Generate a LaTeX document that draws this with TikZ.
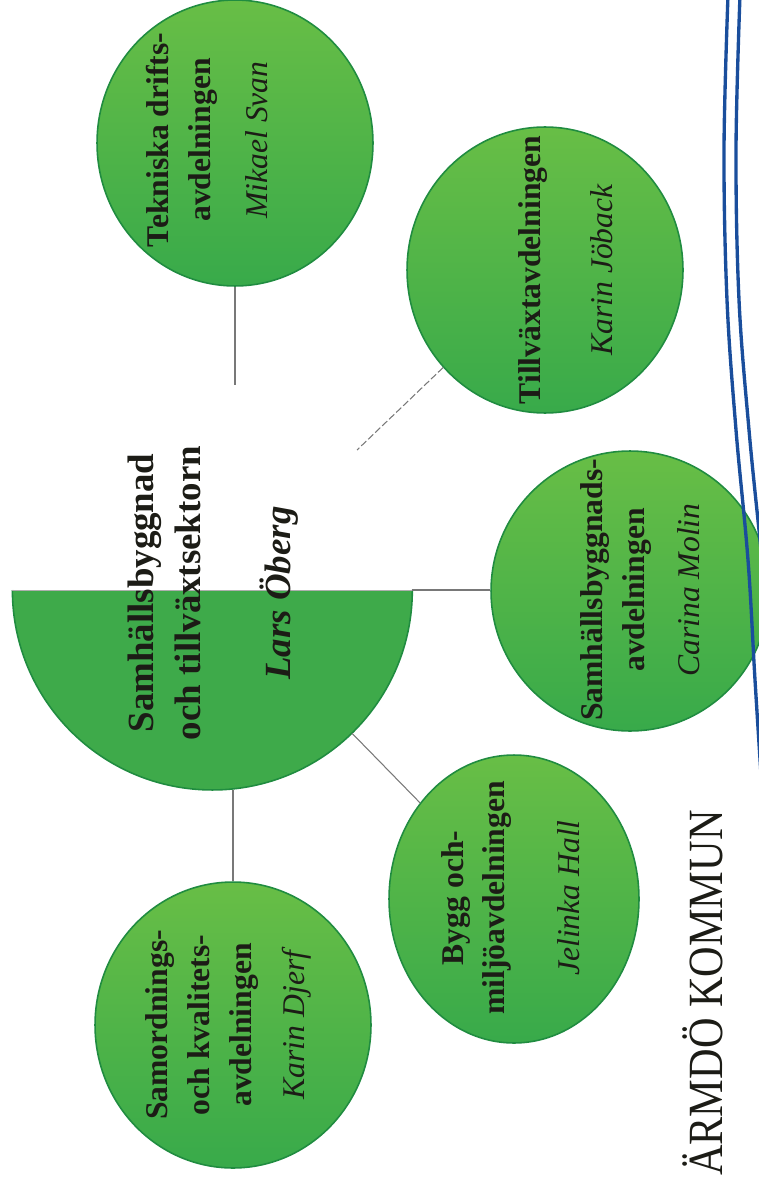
\documentclass[tikz,border=0pt]{standalone}
\usepackage{fontspec}
\usepackage{graphicx}
\usetikzlibrary{shapes.geometric}
\setmainfont{Liberation Serif}
\definecolor{discA}{RGB}{104,190,70}
\definecolor{discB}{RGB}{56,170,74}
\definecolor{discedge}{RGB}{32,140,64}
\definecolor{headfill}{RGB}{62,170,74}
\definecolor{ink}{RGB}{28,28,22}
\definecolor{connc}{RGB}{120,120,120}
\definecolor{bluec}{RGB}{26,78,156}
\newcommand\pname[1]{{\mdseries\itshape #1}}
\begin{document}
\begin{tikzpicture}[x=0.02cm, y=-0.02cm,
  disc/.style={ellipse, draw=discedge, line width=0.9pt, top color=discA, bottom color=discB, inner sep=0pt,
    minimum width=5.52cm, minimum height=5.72cm},
  lbl/.style={rotate=90, align=center, text=ink, font=\fontsize{18}{24}\selectfont\bfseries},
  conn/.style={draw=connc, line width=0.6pt},
  blueline/.style={draw=bluec, line width=1.9pt}]
\useasboundingbox (0,0) rectangle (759,1182);

% head (semicircle)
\node[circle, minimum size=8cm, inner sep=0pt] (head) at (212,590) {};
\fill[headfill] (head.east) arc[start angle=0, end angle=-180, radius=4cm] -- cycle;
\draw[discedge, line width=0.9pt] (head.east) arc[start angle=0, end angle=-180, radius=4cm];
\draw[connc!60, line width=0.5pt] (head.west) -- (head.east);

% department discs
\node[disc] (tek) at (235,143) {};
\node[disc] (till) at (545,270) {};
\node[disc, minimum width=5.56cm, minimum height=5.6cm] (samb) at (630,591) {};
\node[disc, minimum width=5.0cm, minimum height=5.76cm] (bygg) at (514,899) {};
\node[disc] (samo) at (233,1025) {};

% blue double border line
\draw[blueline] plot[smooth, tension=0.6] coordinates {(728,-5) (724,150) (727,300) (736,430) (748,560) (755,680) (762,790)};
\draw[blueline] plot[smooth, tension=0.6] coordinates {(740,-5) (736,150) (739,300) (749,430) (760,540) (768,620)};

% connectors
\coordinate (tekend) at (235,385);
\coordinate (tillend) at (357,450);
\draw[conn] (tek.south) -- (tekend);
\draw[conn, dash pattern=on 4pt off 1.5pt] (till) -- (tillend);
\draw[conn] (head.east) -- (head.east -| samb.west);
\draw[conn] (head) -- (bygg);
\draw[conn] (samo.north) -- (samo.north |- head.south);

% labels
\node[lbl, font=\fontsize{21}{27}\selectfont\bfseries] (headt) at (213,593)
  {Samhällsbyggnad\\och tillväxtsektorn\\[24pt]\textit{Lars Öberg}};
\node[lbl] (tekt) at (207,140) {Tekniska drifts-\\avdelningen\\[8pt]\pname{Mikael Svan}};
\node[lbl] (tillt) at (566,270) {Tillväxtavdelningen\\[17pt]\pname{Karin Jöback}};
\node[lbl] (sambt) at (640,590) {Samhällsbyggnads-\\avdelningen\\[7pt]\pname{Carina Molin}};
\node[lbl, font=\fontsize{18}{23}\selectfont\bfseries] (byggt) at (511,898) {Bygg och-\\miljöavdelningen\\[20pt]\pname{Jelinka Hall}};
\node[lbl] (samot) at (228,1025) {Samordnings-\\och kvalitets-\\avdelningen\\[6pt]\pname{Karin Djerf}};

% municipality name
\node[rotate=90, text=ink, font=\fontsize{28}{28}\selectfont] (kommun) at (703,993)
  {\scalebox{0.86}[1]{ÄRMDÖ KOMMUN}};
\end{tikzpicture}
\end{document}
